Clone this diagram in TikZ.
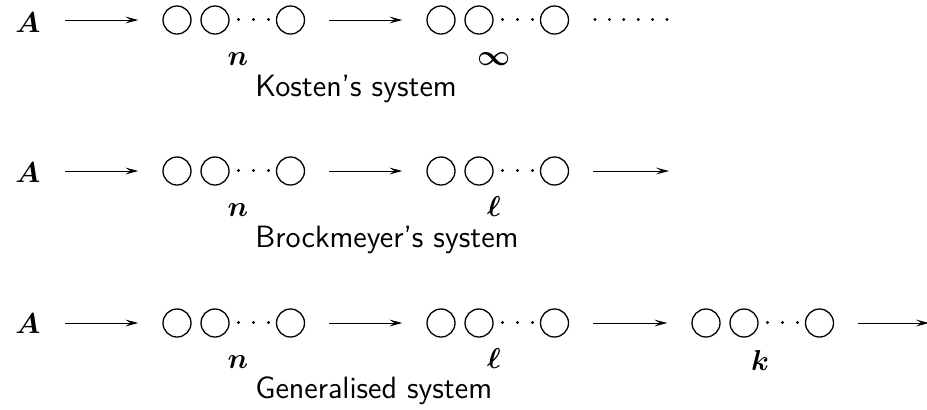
\documentclass[tikz,border=0pt]{standalone}
\usepackage{bm}
\usetikzlibrary{arrows.meta}
\newcommand\beadgroup[3]{%
  \node[bead] (#1a) at (#2,#3) {};
  \node[bead] (#1b) at (#2+38,#3) {};
  \node[bead] (#1c) at (#2+113.5,#3) {};
  \foreach \d in {61.5,76.5,91.5} \fill (#2+\d,#3-0.5) circle (0.8pt);
}
\begin{document}
\begin{tikzpicture}[x=0.5pt,y=-0.5pt,
  bead/.style={circle,draw,line width=0.65pt,minimum size=14pt,inner sep=0pt},
  tip/.tip={Stealth[length=6.5pt,width=3.4pt,inset=2.6pt]},
  arr/.style={line width=0.5pt,-tip,shorten <=12pt,shorten >=12pt},
  arrfree/.style={line width=0.5pt,-tip,shorten <=12pt},
  lab/.style={anchor=base,inner sep=0pt,font=\fontsize{14.4}{17}\selectfont},
  sys/.style={anchor=base west,inner sep=0pt,font=\fontsize{15.4}{18}\selectfont\sffamily}]
\useasboundingbox (0,0) rectangle (927,409);
% Row 1: Kosten
\node[lab,anchor=base west] (A1) at (15,32) {$\bm{A}$};
\beadgroup{p}{177}{20}
\beadgroup{q}{441}{20}
\draw[arr] (A1.east |- pa.west) -- (pa.west);
\draw[arr] (pc.east) -- (qa.west);
\foreach \i in {0,...,5} \fill (595+\i*14.4,19.5) circle (0.8pt);
\node[lab] (n1) at (238,65) {$\bm{n}$};
\node[lab] (inf1) at (494,65) {$\bm{\infty}$};
\node[sys] (t1) at (255,96) {Kosten's system};
% Row 2: Brockmeyer
\node[lab,anchor=base west] (A2) at (15,182) {$\bm{A}$};
\beadgroup{r}{177}{171}
\beadgroup{s}{441}{171}
\coordinate (e2) at (669,171);
\draw[arr] (A2.east |- ra.west) -- (ra.west);
\draw[arr] (rc.east) -- (sa.west);
\draw[arrfree] (sc.east) -- (e2);
\node[lab] (n2) at (238,216) {$\bm{n}$};
\node[lab] (l2) at (494,216) {$\bm{\ell}$};
\node[sys] (t2) at (255,247) {Brockmeyer's system};
% Row 3: Generalised
\node[lab,anchor=base west] (A3) at (15,333) {$\bm{A}$};
\beadgroup{u}{177}{323}
\beadgroup{v}{441}{323}
\beadgroup{w}{706}{323}
\coordinate (e3) at (929,323);
\draw[arr] (A3.east |- ua.west) -- (ua.west);
\draw[arr] (uc.east) -- (va.west);
\draw[arr] (vc.east) -- (wa.west);
\draw[arrfree] (wc.east) -- (e3);
\node[lab] (n3) at (238,368) {$\bm{n}$};
\node[lab] (l3) at (494,368) {$\bm{\ell}$};
\node[lab] (k3) at (760,370) {$\bm{k}$};
\node[sys] (t3) at (255,398) {Generalised system};
\end{tikzpicture}
\end{document}
